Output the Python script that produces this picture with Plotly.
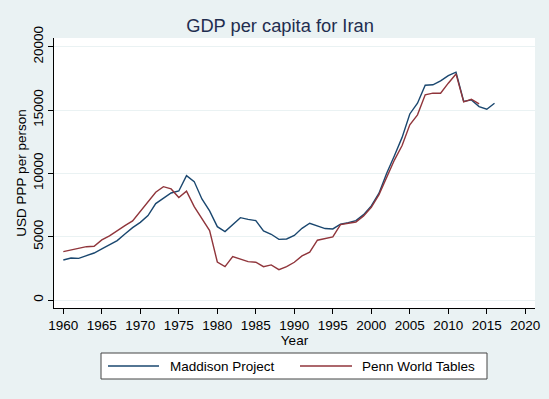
import plotly.graph_objects as go

years_maddison = [1960, 1961, 1962, 1963, 1964, 1965, 1966, 1967, 1968, 1969,
                  1970, 1971, 1972, 1973, 1974, 1975, 1976, 1977, 1978, 1979,
                  1980, 1981, 1982, 1983, 1984, 1985, 1986, 1987, 1988, 1989,
                  1990, 1991, 1992, 1993, 1994, 1995, 1996, 1997, 1998, 1999,
                  2000, 2001, 2002, 2003, 2004, 2005, 2006, 2007, 2008, 2009,
                  2010, 2011, 2012, 2013, 2014, 2015, 2016]
gdp_maddison = [3160, 3320, 3290, 3530, 3710, 4030, 4340, 4690, 5210, 5710,
                6130, 6660, 7610, 8000, 8450, 8610, 9820, 9350, 7980, 7030,
                5790, 5400, 5950, 6500, 6370, 6270, 5450, 5190, 4790, 4820,
                5100, 5660, 6060, 5850, 5640, 5610, 5980, 6110, 6270, 6740,
                7430, 8430, 10010, 11390, 12840, 14690, 15540, 16960, 16990, 17300,
                17720, 17990, 15670, 15800, 15270, 15060, 15540]

years_penn = [1960, 1961, 1962, 1963, 1964, 1965, 1966, 1967, 1968, 1969,
              1970, 1971, 1972, 1973, 1974, 1975, 1976, 1977, 1978, 1979,
              1980, 1981, 1982, 1983, 1984, 1985, 1986, 1987, 1988, 1989,
              1990, 1991, 1992, 1993, 1994, 1995, 1996, 1997, 1998, 1999,
              2000, 2001, 2002, 2003, 2004, 2005, 2006, 2007, 2008, 2009,
              2010, 2011, 2012, 2013, 2014]
gdp_penn = [3820, 3950, 4130, 4210, 4240, 4740, 5060, 5480, 5870, 6240,
            6980, 7720, 8510, 8950, 8770, 8090, 8590, 7370, 6370, 5480,
            3000, 2630, 3420, 3240, 3030, 2980, 2630, 2770, 2400, 2630,
            2980, 3480, 3770, 4720, 4870, 4980, 5950, 6080, 6160, 6640,
            7320, 8320, 9640, 11050, 12200, 13830, 14620, 16200, 16330, 16330,
            17120, 17850, 15640, 15850, 15480]

x_ticks = [1960, 1965, 1970, 1975, 1980, 1985, 1990, 1995, 2000, 2005, 2010, 2015, 2020]
y_ticks = [0, 5000, 10000, 15000, 20000]
y_tick_labels = ["0", "5000", "10000", "15000", "20000"]

series_names = ["Maddison Project", "Penn World Tables"]
series_colors = ["#1a476f", "#90353b"]

W, H = 549, 399
ML, MR, MT, MB = 54, 14, 38, 91
PW = W - ML - MR
PH = H - MT - MB
FONT = "Liberation Sans, Arial, Helvetica, sans-serif"
BG = "#eaf2f3"


def px_x(p):
    return (p - ML) / PW


def px_y(p):
    return (H - MB - p) / PH


fig = go.Figure()
fig.add_trace(go.Scatter(x=years_maddison, y=gdp_maddison, mode="lines",
                         name=series_names[0],
                         line=dict(color=series_colors[0], width=1.4),
                         showlegend=False))
fig.add_trace(go.Scatter(x=years_penn, y=gdp_penn, mode="lines",
                         name=series_names[1],
                         line=dict(color=series_colors[1], width=1.4),
                         showlegend=False))

# manual legend (Stata style)
shapes = [dict(type="rect", xref="paper", yref="paper",
               x0=px_x(101), x1=px_x(487), y0=px_y(379), y1=px_y(353),
               line=dict(color="#444444", width=1), fillcolor="white", layer="below")]
annotations = []
legend_items = [(108, 159, 168), (300, 352, 360)]
for (lx0, lx1, tx), name, color in zip(legend_items, series_names, series_colors):
    shapes.append(dict(type="line", xref="paper", yref="paper",
                       x0=px_x(lx0), x1=px_x(lx1), y0=px_y(366), y1=px_y(366),
                       line=dict(color=color, width=1.4)))
    annotations.append(dict(text=name, xref="paper", yref="paper",
                            x=px_x(tx), y=px_y(366), xanchor="left", yanchor="middle",
                            showarrow=False, font=dict(size=13.5, color="black", family=FONT)))

fig.update_layout(
    width=W, height=H,
    margin=dict(l=ML, r=MR, t=MT, b=MB, autoexpand=False),
    paper_bgcolor=BG,
    plot_bgcolor="white",
    font=dict(family=FONT, size=13.5, color="black"),
    title=dict(text="GDP per capita for Iran", x=280 / W, xanchor="center",
               y=1 - 26 / H, yanchor="middle",
               font=dict(size=18.3, color="#1f2d4f", family=FONT)),
    shapes=shapes,
    annotations=annotations,
    xaxis=dict(range=[1958.79, 2021.26], tickvals=x_ticks,
               showgrid=False, zeroline=False,
               showline=True, linecolor="black", linewidth=1,
               ticks="outside", ticklen=5, tickcolor="black",
               tickfont=dict(size=13.5),
               title=dict(text="Year", standoff=2, font=dict(size=13.5))),
    yaxis=dict(range=[-632, 20687], tickvals=y_ticks, ticktext=y_tick_labels,
               showgrid=True, gridcolor=BG, gridwidth=1, zeroline=False,
               showline=True, linecolor="black", linewidth=1,
               ticks="outside", ticklen=5, tickcolor="black",
               tickangle=-90, tickfont=dict(size=13.5),
               title=dict(text="USD PPP per person", standoff=0, font=dict(size=13.5))),
)

fig.write_html("out.html", config={"displayModeBar": False},
               post_script="document.body.style.margin='0';")
